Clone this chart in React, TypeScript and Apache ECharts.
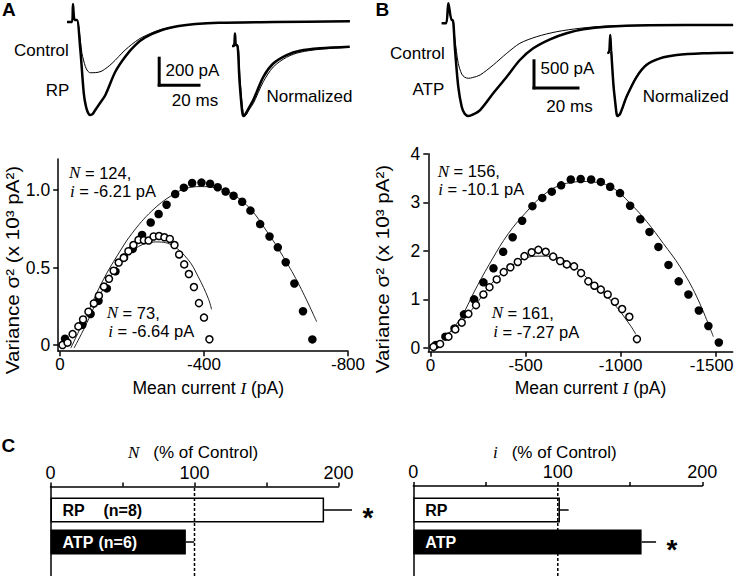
import React, { useEffect, useRef } from 'react';
import * as echarts from 'echarts';

const SANS = '"Liberation Sans", Arial, Helvetica, sans-serif';
const SERIF = '"Liberation Serif", "Times New Roman", serif';

// ---------- Panel A / B traces: [time (ms), current (pA)] ----------
const traceA_RP: number[][] = [[0,0],[2.2,0],[2.6,124],[3.3,14],[4.3,14],[5.8,-193],[7.3,-492],[8.2,-580],[9.1,-625],[10.1,-641],[11.1,-636],[12.3,-607],[14.3,-560],[16.7,-503],[21,-343],[25.3,-239],[29.7,-159],[34,-106],[41.3,-55],[48.6,-28],[55.8,-14],[66,-5],[90,0],[123,5]];
const traceA_Control: number[][] = [[0,0],[2.2,0],[2.6,124],[3.3,14],[4.3,14],[5.8,-124],[6.5,-216],[8,-308],[9,-338],[10.1,-350],[12.5,-349],[15.2,-338],[19.6,-285],[25.3,-193],[31.2,-119],[37,-74],[41.3,-50],[48.6,-28],[55.8,-14],[66,-5],[90,0],[123,5]];
// normalized traces: [time (ms), normalized amplitude]
const normA_RP: number[][] = [[0,0],[1.8,0],[2.7,0.18],[3.6,0.01],[4.8,0.01],[6.8,-0.49],[8.6,-0.84],[9.5,-0.96],[10.3,-1.0],[11.4,-0.99],[12.7,-0.96],[15.5,-0.88],[19.4,-0.77],[28.5,-0.44],[37.5,-0.25],[49.7,-0.13],[61.8,-0.067],[80,-0.033],[107,-0.01]];
const normA_Control: number[][] = [[0,0],[1.8,0],[2.7,0.18],[3.6,0.01],[5.2,0.01],[7.3,-0.46],[9.1,-0.81],[10.1,-0.95],[11.2,-1.01],[12.2,-0.995],[13.5,-0.97],[16,-0.9],[19.4,-0.82],[28.5,-0.51],[37.5,-0.3],[49.7,-0.16],[61.8,-0.09],[80,-0.047],[107,-0.019]];

const traceB_ATP: number[][] = [[0,0],[1.9,0],[2.9,345],[4.3,57],[4.8,57],[5.8,-460],[7.2,-1093],[8.7,-1438],[10,-1560],[11.6,-1598],[13.5,-1575],[16.7,-1495],[22.4,-1207],[28.3,-921],[34,-633],[39.8,-431],[47.1,-276],[54.3,-172],[61.6,-103],[71.7,-59],[90,-35],[126.7,-29]];
const traceB_Control: number[][] = [[0,0],[1.9,0],[2.9,345],[4.3,57],[4.8,57],[5.8,-288],[7.2,-690],[8.7,-874],[10,-930],[11.6,-948],[13.5,-935],[16.7,-891],[22.4,-719],[28.3,-517],[34,-345],[41.3,-231],[50,-145],[60.1,-86],[71.7,-47],[90,-33],[126.7,-29]];
const normB_ATP: number[][] = [[0,0],[1.5,0],[2.7,0.28],[3.6,0.03],[4,0.03],[5.6,-0.51],[7.5,-0.83],[8.3,-0.95],[9.1,-1.0],[10.2,-0.99],[11.5,-0.97],[14,-0.86],[17.6,-0.69],[26.7,-0.38],[35.8,-0.19],[47.9,-0.088],[63.1,-0.036],[87.3,-0.009],[114.5,0]];
const normB_Control: number[][] = [[0,0],[1.5,0],[2.7,0.28],[3.6,0.03],[4,0.03],[5.7,-0.5],[7.6,-0.83],[8.5,-0.95],[9.3,-1.0],[10.4,-0.99],[11.8,-0.97],[14.2,-0.85],[17.8,-0.67],[26.9,-0.36],[36,-0.18],[48,-0.083],[63.1,-0.034],[87.3,-0.008],[114.5,0]];

// ---------- Panel A / B variance vs mean: [mean current I (pA), variance (x10^3 pA^2)] ----------
const varA_RP: number[][] = [[-14,0.04],[-62,0.13],[-85,0.2],[-107,0.285],[-130,0.365],[-154,0.475],[-178,0.565],[-202,0.62],[-228,0.71],[-252,0.79],[-274,0.845],[-296,0.905],[-320,0.974],[-344,1.015],[-367,1.045],[-393,1.048],[-417,1.04],[-438,1.018],[-460,0.99],[-482,0.963],[-506,0.924],[-529,0.867],[-556,0.78],[-582,0.7],[-605,0.63],[-627,0.534],[-651,0.397],[-675,0.218],[-701,0.036]];
const varA_Control: number[][] = [[-7,0.0],[-21,0.015],[-35,0.07],[-51,0.12],[-64,0.165],[-79,0.215],[-94,0.268],[-108,0.318],[-122,0.377],[-136,0.427],[-149,0.479],[-163,0.532],[-177,0.562],[-190,0.605],[-204,0.645],[-218,0.678],[-233,0.676],[-246,0.674],[-260,0.7],[-275,0.703],[-290,0.695],[-305,0.684],[-318,0.645],[-331,0.584],[-345,0.52],[-358,0.458],[-372,0.374],[-386,0.27],[-400,0.177],[-415,0.037]];
const fitA_RP: number[][] = [[-30,-0.02],[-75,0.2],[-120,0.42],[-160,0.58],[-200,0.72],[-255,0.865],[-310,0.965],[-350,1.01],[-390,1.022],[-435,1.013],[-481,0.97],[-528,0.88],[-574,0.735],[-620,0.57],[-667,0.375],[-713,0.15]];
const fitA_Control: number[][] = [[-39,-0.02],[-70,0.12],[-106,0.3],[-140,0.44],[-171,0.54],[-218,0.635],[-265,0.665],[-310,0.645],[-356,0.55],[-384,0.44],[-412,0.3],[-421,0.23]];

const varB_ATP: number[][] = [[-28,0.06],[-78,0.23],[-126,0.4],[-176,0.69],[-229,1.0],[-278,1.35],[-331,1.64],[-382,1.98],[-432,2.28],[-482,2.62],[-536,2.92],[-588,3.09],[-638,3.22],[-687,3.35],[-738,3.47],[-790,3.48],[-845,3.47],[-896,3.42],[-945,3.32],[-997,3.19],[-1050,2.93],[-1104,2.65],[-1152,2.39],[-1199,2.08],[-1252,1.71],[-1306,1.37],[-1357,1.1],[-1412,0.77],[-1462,0.45],[-1517,0.11]];
const varB_Control: number[][] = [[-15,0.02],[-50,0.08],[-94,0.23],[-130,0.38],[-164,0.52],[-199,0.7],[-239,0.88],[-278,1.1],[-310,1.25],[-348,1.41],[-385,1.56],[-420,1.66],[-459,1.77],[-494,1.89],[-532,1.97],[-567,2.02],[-606,1.98],[-645,1.88],[-682,1.79],[-717,1.72],[-755,1.68],[-792,1.54],[-830,1.37],[-862,1.28],[-896,1.2],[-932,1.1],[-970,0.95],[-1008,0.8],[-1046,0.64],[-1086,0.18]];
const fitB_ATP: number[][] = [[-95,0.3],[-160,0.62],[-234,1.19],[-322,1.81],[-410,2.36],[-497,2.77],[-585,3.12],[-673,3.34],[-761,3.42],[-800,3.43],[-875,3.41],[-962,3.29],[-1050,2.98],[-1138,2.6],[-1225,2.15],[-1313,1.67],[-1401,1.05],[-1488,0.23]];
const fitB_Control: number[][] = [[-95,0.3],[-160,0.52],[-234,0.87],[-322,1.33],[-410,1.64],[-497,1.85],[-585,1.89],[-673,1.85],[-761,1.67],[-787,1.57],[-875,1.26],[-962,0.92],[-1050,0.47],[-1080,0.28]];

const xTicksA = [0, -400, -800];
const yTicksA = [0, 0.5, 1.0];
const xTicksB = [0, -500, -1000, -1500];
const yTicksB = [0, 1, 2, 3, 4];

// ---------- Panel C ----------
const cCategories = ['RP', 'ATP'];
const cCounts = ['(n=8)', '(n=6)'];
const nPercent = [190, 94];
const nSem = [19.4, 5.8];
const nSig = [1, 0];
const iPercent = [101.5, 158];
const iSem = [6, 10];
const iSig = [0, 1];
const controlLevel = 100;
const cTicks = [0, 100, 200];

const BLACK = '#000';

const GRIDS = [
  { left: 67, top: 0.25, width: 285.2, height: 130.5 },     // 0 trace A
  { left: 232, top: 4, width: 121, height: 119 },           // 1 normalized A
  { left: 441.7, top: 0.1, width: 292.1, height: 124.7 },   // 2 trace B
  { left: 607.3, top: 2.1, width: 126.5, height: 120.3 },   // 3 normalized B
  { left: 58.2, top: 159, width: 289.8, height: 192.2 },    // 4 scatter A
  { left: 428.3, top: 153.8, width: 304.4, height: 197.9 }, // 5 scatter B
  { left: 50.5, top: 486.5, width: 288, height: 89.5 },     // 6 C left frame
  { left: 50.5, top: 494, width: 288, height: 64 },         // 7 C left bars
  { left: 413.3, top: 486, width: 289, height: 90 },        // 8 C right frame
  { left: 413.3, top: 494, width: 289, height: 64 },        // 9 C right bars
];

const hidden = (gi: number, min: number, max: number) => ({
  type: 'value', gridIndex: gi, min, max, show: false, splitLine: { show: false },
});

const lineStyleAxis = { color: BLACK, width: 1.5 };

const scatterX = (gi: number, min: number, max: number, ticks: number[], edgeValue: number | null) => ({
  type: 'value', gridIndex: gi, min, max, inverse: true,
  axisLine: { show: true, onZero: false, lineStyle: lineStyleAxis },
  axisTick: { show: true, length: 5, customValues: ticks, lineStyle: lineStyleAxis },
  axisLabel: {
    show: true, customValues: ticks, color: BLACK, fontSize: 17, fontFamily: SANS, margin: 5,
    formatter: (v: number) => (v === edgeValue ? `{e|${v}}` : String(v)),
    rich: { e: { fontSize: 17, fontFamily: SANS, color: BLACK, padding: [0, 8, 0, 0] } },
  },
  splitLine: { show: false },
});
const scatterY = (gi: number, min: number, max: number, ticks: number[], fmt: (v: number) => string) => ({
  type: 'value', gridIndex: gi, min, max,
  axisLine: { show: true, onZero: false, lineStyle: lineStyleAxis },
  axisTick: { show: true, length: 5, customValues: ticks, lineStyle: lineStyleAxis },
  axisLabel: { show: true, customValues: ticks, color: BLACK, fontSize: 17.5, fontFamily: SANS, margin: 8, formatter: fmt },
  splitLine: { show: false },
});
const frameX = (gi: number) => ({
  type: 'value', gridIndex: gi, position: 'top', min: 0, max: 200, interval: 50,
  axisLine: { show: true, onZero: false, lineStyle: lineStyleAxis },
  axisTick: { show: true, length: 4, inside: false, lineStyle: lineStyleAxis },
  axisLabel: { show: true, color: BLACK, fontSize: 18, fontFamily: SANS, margin: 5,
    formatter: (v: number) => (cTicks.indexOf(v) >= 0 ? String(v) : '') },
  splitLine: { show: false },
});
const frameY = (gi: number) => ({
  type: 'value', gridIndex: gi, min: 0, max: 1,
  axisLine: { show: true, onZero: false, lineStyle: lineStyleAxis },
  axisTick: { show: false }, axisLabel: { show: false }, splitLine: { show: false },
});
const barsY = (gi: number) => ({
  type: 'category', gridIndex: gi, data: cCategories, inverse: true, show: false,
});

const trace = (gi: number, data: number[][], width: number) => ({
  type: 'line', xAxisIndex: gi, yAxisIndex: gi, data, showSymbol: false, smooth: 0.3,
  lineStyle: { color: BLACK, width }, silent: true,
});
const fit = (gi: number, data: number[][]) => ({
  type: 'line', xAxisIndex: gi, yAxisIndex: gi, data, showSymbol: false, smooth: 0.4,
  lineStyle: { color: '#222', width: 1 }, z: 1, silent: true,
});
const dots = (gi: number, data: number[][], open: boolean) => ({
  type: 'scatter', xAxisIndex: gi, yAxisIndex: gi, data, symbol: 'circle',
  symbolSize: open ? 7 : 8.5, z: open ? 3 : 2,
  itemStyle: open ? { color: '#fff', borderColor: BLACK, borderWidth: 1.5, opacity: 1 } : { color: BLACK, opacity: 1 },
});

const errorRender = (_params: any, api: any) => {
  const v = api.value(0) as number;
  const e = api.value(1) as number;
  const c = api.value(2) as number;
  const sig = api.value(3) as number;
  const p0 = api.coord([v, c]);
  const p1 = api.coord([v + e, c]);
  const children: any[] = [{
    type: 'line', shape: { x1: p0[0], y1: p0[1], x2: p1[0], y2: p1[1] },
    style: { stroke: BLACK, lineWidth: 1.5 },
  }];
  if (sig) {
    children.push({
      type: 'text', x: p1[0] + 16, y: p1[1] + 7,
      style: { text: '*', fill: BLACK, fontSize: 28, fontFamily: SANS, fontWeight: 'bold', align: 'center', verticalAlign: 'middle' },
    });
  }
  return { type: 'group', children };
};

const bars = (gi: number, values: number[], withCounts: boolean) => ({
  type: 'bar', xAxisIndex: gi, yAxisIndex: gi, barWidth: 25,
  data: values.map((v, i) => ({
    value: v,
    itemStyle: i === 0 ? { color: '#fff', borderColor: BLACK, borderWidth: 1.5 } : { color: BLACK, borderColor: BLACK, borderWidth: 1.5 },
  })),
  label: {
    show: true, position: 'insideLeft', distance: 12,
    formatter: (p: any) => {
      const k = p.dataIndex === 0 ? 'k' : 'kw';
      const n = p.dataIndex === 0 ? 'n' : 'nw';
      return withCounts ? `{${k}|${cCategories[p.dataIndex]}}{${n}|${cCounts[p.dataIndex]}}` : `{${n}|${cCategories[p.dataIndex]}}`;
    },
    rich: {
      k: { color: BLACK, fontWeight: 'bold', fontSize: 16, fontFamily: SANS, width: 41 },
      kw: { color: '#fff', fontWeight: 'bold', fontSize: 16, fontFamily: SANS, width: 36 },
      n: { color: BLACK, fontWeight: 'bold', fontSize: 16, fontFamily: SANS },
      nw: { color: '#fff', fontWeight: 'bold', fontSize: 16, fontFamily: SANS },
    },
  },
  silent: true,
});
const errors = (gi: number, values: number[], sem: number[], sig: number[]) => ({
  type: 'custom', xAxisIndex: gi, yAxisIndex: gi, renderItem: errorRender,
  data: values.map((v, i) => [v, sem[i], i, sig[i]]),
  encode: { x: 0, y: 2 }, z: 4, silent: true,
});
const refLine = (gi: number) => ({
  type: 'line', xAxisIndex: gi, yAxisIndex: gi, data: [[controlLevel, 0], [controlLevel, 1]],
  showSymbol: false, lineStyle: { color: BLACK, width: 1.5, type: [3, 2] }, z: 5, silent: true,
});

const txt = (text: string, x: number, y: number, opts: any = {}) => ({
  type: 'text', x, y, z: 100,
  style: { text, fill: BLACK, fontSize: 17, fontFamily: SANS, align: 'left', verticalAlign: 'middle', ...opts },
});
const richItal = { i: { fontFamily: SERIF, fontStyle: 'italic', fontSize: 17 } };
const seg = (x1: number, y1: number, x2: number, y2: number, w = 3) => ({
  type: 'line', shape: { x1, y1, x2, y2 }, z: 100, style: { stroke: BLACK, lineWidth: w },
});

const option: any = {
  animation: false,
  backgroundColor: '#fff',
  grid: GRIDS.map((g) => ({ ...g, containLabel: false, outerBoundsMode: 'none' })),
  xAxis: [
    hidden(0, 0, 124), hidden(1, 0, 110), hidden(2, 0, 127), hidden(3, 0, 115),
    scatterX(4, -800, 5, xTicksA, null), scatterX(5, -1590, 12, xTicksB, -1500),
    frameX(6), hidden(7, 0, 200), frameX(8), hidden(9, 0, 200),
  ],
  yAxis: [
    hidden(0, -750, 150), hidden(1, -1.1, 0.6), hidden(2, -1750, 400), hidden(3, -1.1, 0.8),
    scatterY(4, -0.04, 1.2, yTicksA, (v: number) => (v === 0 ? '0' : v.toFixed(1))),
    scatterY(5, -0.08, 4, yTicksB, (v: number) => String(v)),
    frameY(6), barsY(7), frameY(8), barsY(9),
  ],
  series: [
    trace(0, traceA_Control, 1), trace(0, traceA_RP, 2.5),
    trace(1, normA_Control, 1), trace(1, normA_RP, 2.5),
    trace(2, traceB_Control, 1), trace(2, traceB_ATP, 2.5),
    trace(3, normB_Control, 1), trace(3, normB_ATP, 2.5),
    fit(4, fitA_RP), fit(4, fitA_Control), dots(4, varA_RP, false), dots(4, varA_Control, true),
    fit(5, fitB_ATP), fit(5, fitB_Control), dots(5, varB_ATP, false), dots(5, varB_Control, true),
    refLine(6), bars(7, nPercent, true), errors(7, nPercent, nSem, nSig),
    refLine(8), bars(9, iPercent, false), errors(9, iPercent, iSem, iSig),
  ],
  graphic: [
    txt('A', 2, 9, { fontWeight: 'bold', fontSize: 19 }),
    txt('B', 375.5, 9, { fontWeight: 'bold', fontSize: 19 }),
    txt('C', 1.5, 445, { fontWeight: 'bold', fontSize: 19 }),
    txt('Control', 14, 50), txt('RP', 45.7, 90),
    txt('200 pA', 165.5, 70), txt('20 ms', 195, 100, { align: 'center' }),
    txt('Normalized', 266.5, 96.7),
    txt('Control', 390, 53.3), txt('ATP', 412.5, 89.3),
    txt('500 pA', 540.5, 68.3), txt('20 ms', 569.5, 106, { align: 'center' }),
    txt('Normalized', 642.7, 96.7),
    seg(159.2, 56.7, 159.2, 86.5), seg(157.7, 85.3, 200.5, 85.3),
    seg(534, 59.3, 534, 89.3), seg(532.5, 88, 579.5, 88),
    // scatter annotations
    txt('{i|N} = 124,', 69, 172.5, { rich: richItal, fontSize: 16.5 }),
    txt('{i|i} = -6.21 pA', 70, 191, { rich: richItal, fontSize: 16.5 }),
    txt('{i|N} = 73,', 106.7, 312.5, { rich: richItal, fontSize: 16.5 }),
    txt('{i|i} = -6.64 pA', 108.3, 331, { rich: richItal, fontSize: 16.5 }),
    txt('{i|N} = 156,', 437.7, 171, { rich: richItal, fontSize: 16.5 }),
    txt('{i|i} = -10.1 pA', 438.3, 189, { rich: richItal, fontSize: 16.5 }),
    txt('{i|N} = 161,', 491.7, 312.5, { rich: richItal, fontSize: 16.5 }),
    txt('{i|i} = -7.27 pA', 493.3, 331.5, { rich: richItal, fontSize: 16.5 }),
    // axis titles
    txt('Mean current {i|I} (pA)', 208.3, 388, { align: 'center', rich: richItal, fontSize: 17.5 }),
    txt('Mean current {i|I} (pA)', 590.5, 388, { align: 'center', rich: richItal, fontSize: 17.5 }),
    { ...txt('Variance σ² (x 10³ pA²)', 13.5, 270, { align: 'center', fontSize: 17.5 }), rotation: Math.PI / 2, scaleX: 1.18 },
    { ...txt('Variance σ² (x 10³ pA²)', 383.5, 269, { align: 'center', fontSize: 17.5 }), rotation: Math.PI / 2, scaleX: 1.18 },
    txt('N', 128, 452, { fontFamily: SERIF, fontStyle: 'italic' }),
    txt('(% of Control)', 153.3, 452),
    txt('i', 493, 452, { fontFamily: SERIF, fontStyle: 'italic' }),
    txt('(% of Control)', 511.7, 452),
  ],
};

export default function App() {
  const ref = useRef<HTMLDivElement>(null);
  useEffect(() => {
    const chart = echarts.init(ref.current!, null, { renderer: 'svg', width: 734, height: 576 });
    chart.setOption(option);
    return () => chart.dispose();
  }, []);
  return (
    <div
      ref={ref}
      style={{ position: 'fixed', left: 0, top: 0, width: 734, height: 576, background: '#fff' }}
    />
  );
}
